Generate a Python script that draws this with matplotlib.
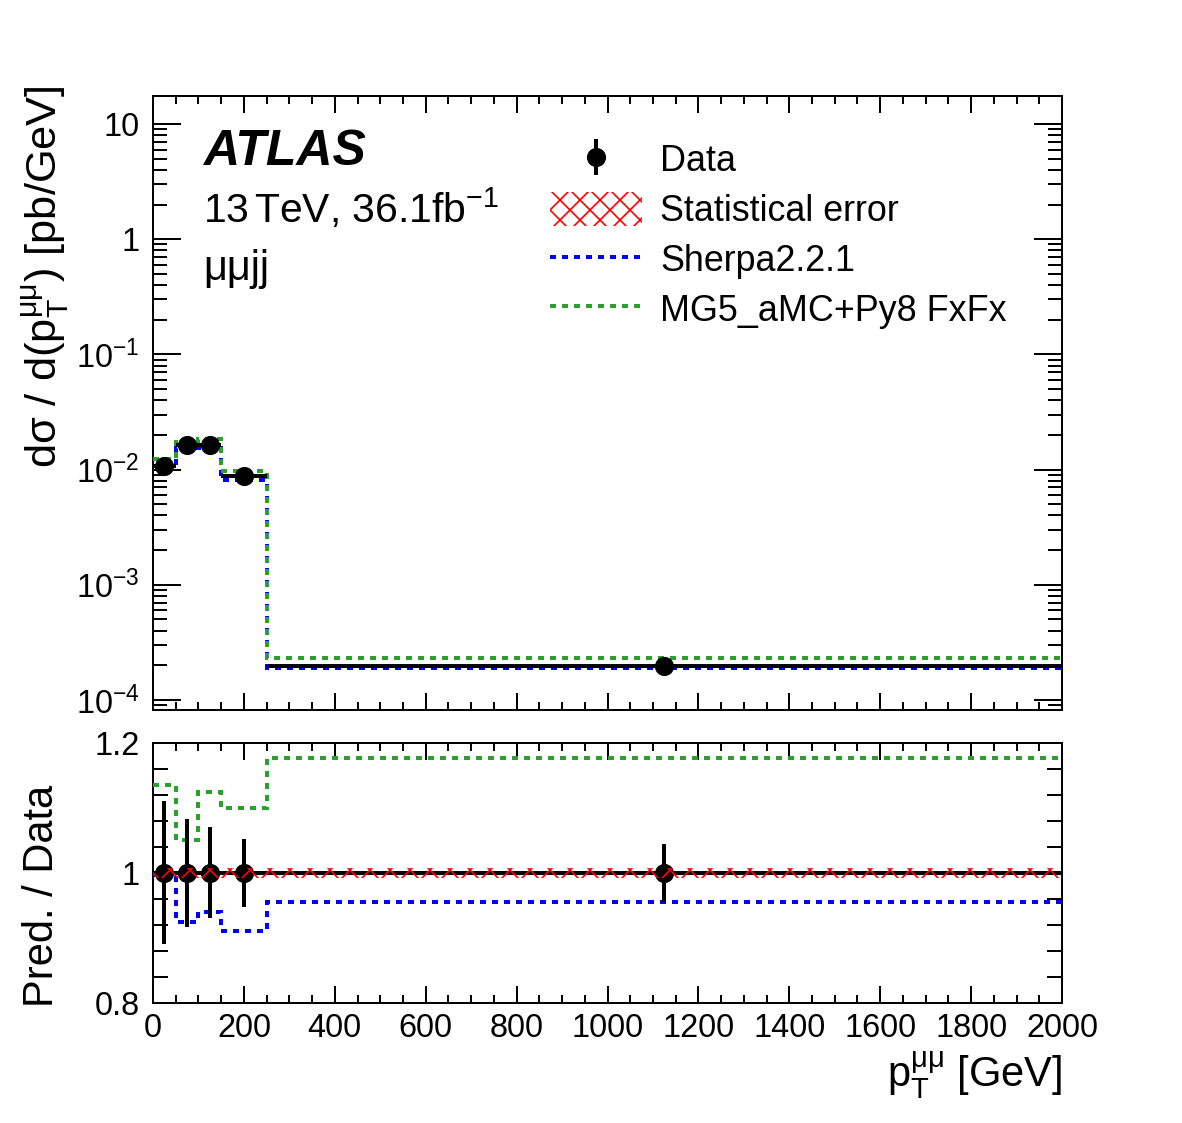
import matplotlib
matplotlib.use("Agg")
import matplotlib.pyplot as plt
import numpy as np
from matplotlib.lines import Line2D
from matplotlib.patches import Patch
from matplotlib.ticker import FuncFormatter, MultipleLocator, LogLocator, NullFormatter, FixedLocator

plt.rcParams['font.family'] = ['Liberation Sans', 'DejaVu Sans']
plt.rcParams['mathtext.fontset'] = 'custom'
plt.rcParams['mathtext.rm'] = 'Liberation Sans'
plt.rcParams['mathtext.it'] = 'Liberation Sans:italic'
plt.rcParams['mathtext.bf'] = 'Liberation Sans:bold'
plt.rcParams['hatch.linewidth'] = 1.0

# bins in pT(mumu) [GeV]
edges = [0, 50, 100, 150, 250, 2000]
centers = [25, 75, 125, 200, 1125]
halfwidth = [25, 25, 25, 50, 875]

# measured cross section [pb/GeV] and relative errors
data_xsec = [0.0108, 0.0165, 0.0165, 0.00886, 1.98e-4]
data_rel_err = [0.11, 0.083, 0.07, 0.052, 0.045]
stat_rel_err = [0.008, 0.008, 0.008, 0.008, 0.008]

# predictions / data
ratio_sherpa = [0.997, 0.925, 0.94, 0.91, 0.955]
ratio_mg5 = [1.135, 1.051, 1.124, 1.10, 1.177]

data_xsec = np.array(data_xsec)
sherpa = data_xsec * np.array(ratio_sherpa)
mg5 = data_xsec * np.array(ratio_mg5)
derr = data_xsec * np.array(data_rel_err)
serr = np.array(stat_rel_err)

blue = '#0000ff'
green = '#2ca02c'
dash = (0, (1.5, 1.5))

W, H = 1182, 1123
fig = plt.figure(figsize=(W / 120, H / 120), dpi=120)
ax = fig.add_axes([153 / W, 1 - 710 / H, 909 / W, 614 / H])
rx = fig.add_axes([153 / W, 1 - 1003 / H, 909 / W, 260 / H])

# ---- upper panel
ax.stairs(data_xsec * (1 + serr), edges, baseline=data_xsec * (1 - serr), fill=True,
          facecolor='none', edgecolor='red', hatch='xx', linewidth=0, zorder=4)
ax.stairs(sherpa, edges, baseline=None, color=blue, lw=2.4, ls=dash, zorder=3)
ax.stairs(mg5, edges, baseline=None, color=green, lw=2.4, ls=dash, zorder=3)
ax.hlines(data_xsec, np.array(centers) - halfwidth, np.array(centers) + halfwidth,
          color='black', lw=2.4, zorder=5)
ax.errorbar(centers, data_xsec, yerr=derr, fmt='o', color='black', ms=10.5,
            elinewidth=2.4, capsize=0, zorder=6)

ax.set_yscale('log')
ax.set_xlim(0, 2000)
ax.set_ylim(8.18e-5, 17.5)

def logfmt(v, pos):
    e = int(round(np.log10(v)))
    if e == 0:
        return '1'
    if e == 1:
        return '10'
    return r'$10^{%d}$' % e

ax.yaxis.set_major_locator(FixedLocator([1e-4, 1e-3, 1e-2, 1e-1, 1, 10]))
ax.yaxis.set_minor_locator(LogLocator(base=10, subs=np.arange(2, 10), numticks=20))
ax.yaxis.set_major_formatter(FuncFormatter(logfmt))
ax.yaxis.set_minor_formatter(NullFormatter())
ax.xaxis.set_major_locator(MultipleLocator(200))
ax.xaxis.set_minor_locator(MultipleLocator(50))
ax.tick_params(axis='x', labelbottom=False)
ax.tick_params(which='both', direction='in', top=True, right=True, width=1.2)
ax.tick_params(axis='y', which='major', length=17, pad=8, labelsize=19.5)
ax.tick_params(axis='y', which='minor', length=8.5)
ax.tick_params(axis='x', which='major', length=10)
ax.tick_params(axis='x', which='minor', length=5)
for s in ax.spines.values():
    s.set_linewidth(1.2)

fig.text(203 / W, 1 - 165 / H, 'ATLAS', fontsize=30, fontweight='bold', fontstyle='italic')
fig.text(203 / W, 1 - 223 / H, r'13$\,$TeV, 36.1fb$^{\mathrm{-1}}$', fontsize=24.5)
fig.text(203 / W, 1 - 280 / H, 'μμjj', fontsize=25)

fig.text(45 / W, 1 - 85 / H, r'd$\mathrm{\sigma}$ / d($\mathrm{p_{T}^{\mu\mu}}$) [pb/GeV]',
         rotation=90, ha='center', va='top', fontsize=26)

labels = ['Data', 'Statistical error', 'Sherpa2.2.1', 'MG5_aMC+Py8 FxFx']
eb = ax.errorbar([np.nan], [np.nan], yerr=[np.nan], fmt='o', color='black', ms=10.5,
                 elinewidth=2.4, capsize=0)
handles = [
    eb,
    Patch(facecolor='none', edgecolor='red', hatch='xx', linewidth=0),
    Line2D([], [], color=blue, lw=2.4, ls=dash),
    Line2D([], [], color=green, lw=2.4, ls=dash),
]
leg = ax.legend(handles, labels, loc='upper left', bbox_to_anchor=(550 / W, 1 - 142 / H),
                bbox_transform=fig.transFigure, frameon=False, fontsize=21.5,
                handlelength=2.57, handleheight=1.1, handletextpad=0.5,
                labelspacing=0.35, borderpad=0, borderaxespad=0)

# ---- ratio panel
ones = np.ones(len(centers))
rx.stairs(1 + serr, edges, baseline=1 - serr, fill=True, facecolor='none',
          edgecolor='red', hatch='xx', linewidth=0, zorder=6)
rx.stairs(ratio_sherpa, edges, baseline=None, color=blue, lw=2.4, ls=dash, zorder=3)
rx.stairs(ratio_mg5, edges, baseline=None, color=green, lw=2.4, ls=dash, zorder=3)
rx.hlines(ones, np.array(centers) - halfwidth, np.array(centers) + halfwidth,
          color='black', lw=2.4, zorder=4)
rx.errorbar(centers, ones, yerr=data_rel_err, fmt='o', color='black', ms=10.5,
            elinewidth=2.4, capsize=0, zorder=5)

rx.set_xlim(0, 2000)
rx.set_ylim(0.8, 1.2)
rx.yaxis.set_major_locator(FixedLocator([0.8, 1.0, 1.2]))
rx.yaxis.set_minor_locator(MultipleLocator(0.04))
rx.yaxis.set_major_formatter(FuncFormatter(lambda v, p: '%g' % round(v, 2)))
rx.xaxis.set_major_locator(MultipleLocator(200))
rx.xaxis.set_minor_locator(MultipleLocator(50))
rx.tick_params(which='both', direction='in', top=True, right=True, width=1.2)
rx.tick_params(axis='y', which='both', length=9, pad=8, labelsize=19.5)
rx.tick_params(axis='x', which='major', length=10, pad=6, labelsize=19.5)
rx.tick_params(axis='x', which='minor', length=5)
for s in rx.spines.values():
    s.set_linewidth(1.2)

fig.text(42 / W, 1 - 785 / H, 'Pred. / Data', rotation=90, ha='center', va='top', fontsize=25)
fig.text(1062 / W, 1 - 1075 / H, r'$\mathrm{p_{T}^{\mu\mu}}$ [GeV]', ha='right', va='center',
         fontsize=25)

fig.savefig('out.png', dpi=120)
